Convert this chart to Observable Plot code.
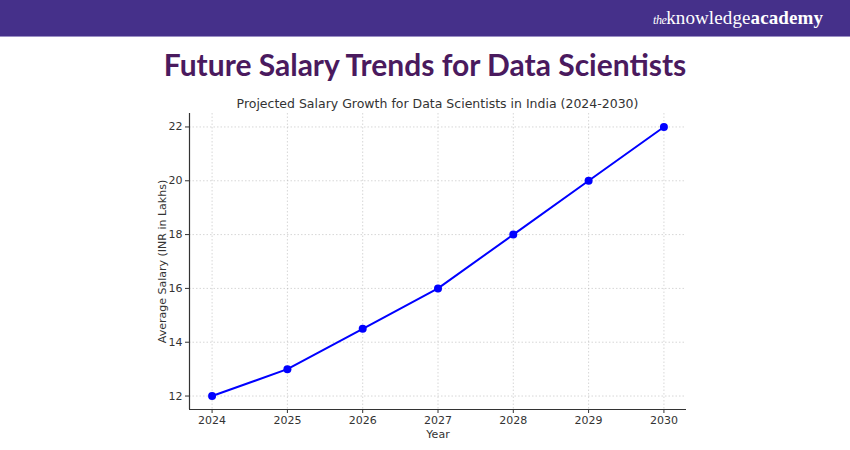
<!DOCTYPE html>
<html>
<head>
<meta charset="utf-8">
<script src="https://cdn.jsdelivr.net/npm/d3@7"></script>
<script src="https://cdn.jsdelivr.net/npm/@observablehq/plot@0.6"></script>
<style>
  html, body { margin: 0; padding: 0; background: #fff; width: 850px; height: 450px; overflow: hidden; }
  #header { position: absolute; left: 0; top: 0; width: 850px; height: 36px; background: #45308a; border-bottom: 1px solid #9a8fc4; }
  #logo { position: absolute; right: 27px; top: 7px; color: #fff; font-family: "Liberation Serif", "DejaVu Serif", serif; font-size: 19px; letter-spacing: 0.1px; }
  #logo i { font-size: 12px; font-style: italic; letter-spacing: -0.5px; }
  #logo b { font-weight: bold; }
  #title { position: absolute; left: 0; top: 46px; width: 850px; text-align: center; font-family: "Lato", sans-serif; font-weight: 700; font-size: 30px; color: #4a1a5e; letter-spacing: 0px; }
  #subtitle { position: absolute; left: 189px; top: 96px; width: 497px; text-align: center; font-family: "DejaVu Sans", sans-serif; font-size: 12.5px; color: #333; }
  #chart { position: absolute; left: 0; top: 110px; }
</style>
</head>
<body>
<div id="header"><div id="logo"><i>the</i>knowledge<b>academy</b></div></div>
<div id="title">Future Salary Trends for Data Scientists</div>
<div id="subtitle">Projected Salary Growth for Data Scientists in India (2024-2030)</div>
<div id="chart"></div>
<script>
const years = [2024, 2025, 2026, 2027, 2028, 2029, 2030];
const salaries = [12, 13, 14.5, 16, 18, 20, 22];
const yTicks = [12, 14, 16, 18, 20, 22];
const xDomain = [2023.7, 2030.3];
const yDomain = [11.5, 22.5];

const data = years.map((y, i) => ({year: y, salary: salaries[i]}));

const chart = Plot.plot({
  width: 850,
  height: 340,
  marginLeft: 189,
  marginRight: 164,
  marginTop: 3,
  marginBottom: 41,
  style: {fontFamily: "DejaVu Sans, sans-serif", fontSize: "11px", color: "#333", background: "transparent"},
  x: {domain: xDomain, ticks: years, tickFormat: d => String(d), label: null},
  y: {domain: yDomain, ticks: yTicks, label: null},
  marks: [
    Plot.gridX(years, {stroke: "#aaa", strokeOpacity: 0.6, strokeDasharray: "1.5,2", strokeWidth: 0.8}),
    Plot.gridY(yTicks, {stroke: "#aaa", strokeOpacity: 0.6, strokeDasharray: "1.5,2", strokeWidth: 0.8}),
    Plot.axisX(years, {tickSize: 4, tickPadding: 3, fontSize: 11, fill: "#333", stroke: "#333", label: "Year", labelAnchor: "center", labelArrow: "none", labelOffset: 28, tickFormat: d => String(d)}),
    Plot.axisY(yTicks, {tickSize: 4, tickPadding: 3, fontSize: 11, fill: "#333", stroke: "#333", label: "Average Salary (INR in Lakhs)", labelAnchor: "center", labelArrow: "none", labelOffset: 31}),
    Plot.ruleX([xDomain[0]], {stroke: "#333", strokeWidth: 1.2}),
    Plot.ruleY([yDomain[0]], {stroke: "#333", strokeWidth: 1.2}),
    Plot.line(data, {x: "year", y: "salary", stroke: "#0000ff", strokeWidth: 2}),
    Plot.dot(data, {x: "year", y: "salary", r: 4, fill: "#0000ff", stroke: "none"})
  ]
});
document.getElementById("chart").appendChild(chart);
</script>
</body>
</html>
